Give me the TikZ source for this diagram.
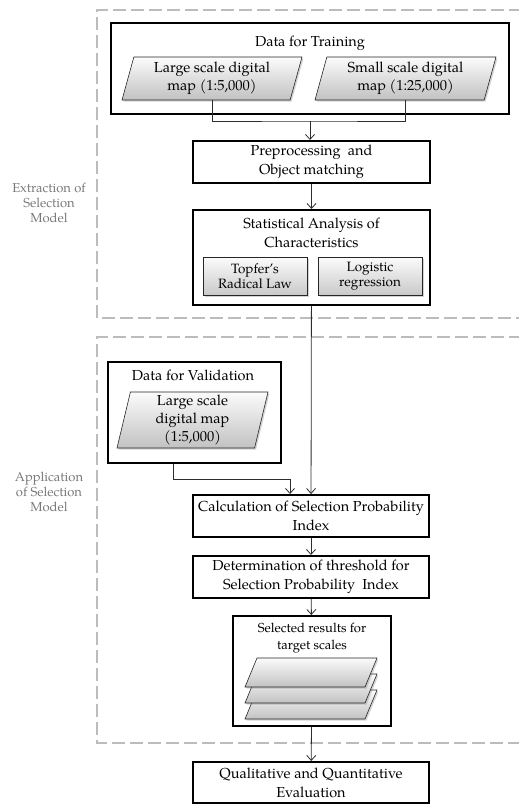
\documentclass[tikz,border=0pt]{standalone}
\usepackage{fontspec}
\setmainfont{TeX Gyre Pagella}
\usetikzlibrary{arrows.meta,positioning,shapes.geometric,shadows}
\definecolor{zoneGrey}{RGB}{188,188,188}
\definecolor{labelGrey}{RGB}{120,120,120}
\definecolor{lineGrey}{RGB}{45,45,45}

\begin{document}
\begin{tikzpicture}[x=1pt,y=-1pt,
    box/.style={draw,line width=2pt,align=center,inner sep=0pt,font=\fontsize{14.5}{19}\selectfont},
    container/.style={draw,line width=2pt,inner sep=0pt},
    heading/.style={align=center,inner sep=0pt,font=\fontsize{14.5}{19}\selectfont},
    mapsheet/.style={trapezium,trapezium stretches body,draw=black!85,line width=0.6pt,top color=gray!3,bottom color=gray!48,drop shadow={opacity=0.35,shadow xshift=1.5pt,shadow yshift=-1.5pt},align=center,inner sep=0pt,font=\fontsize{14.5}{18}\selectfont},
    sheet/.style={draw=black!85,line width=0.6pt,top color=gray!3,bottom color=gray!48,drop shadow={opacity=0.35,shadow xshift=1.5pt,shadow yshift=-1.5pt}},
    method/.style={draw=black!85,line width=0.6pt,top color=gray!3,bottom color=gray!42,drop shadow={opacity=0.35,shadow xshift=1.5pt,shadow yshift=-1.5pt},align=center,inner sep=0pt,font=\fontsize{13.5}{15}\selectfont},
    zone/.style={draw=zoneGrey,line width=2pt,dash pattern=on 13pt off 5pt},
    zonelabel/.style={text=labelGrey,align=center,font=\fontsize{13}{15}\selectfont},
    arrow/.style={-{Straight Barb[length=5pt,width=9pt]},line width=0.8pt,draw=lineGrey},
    link/.style={line width=0.8pt,draw=lineGrey}
  ]
    \useasboundingbox (0,0) rectangle (519,804);

    % the two stages
    \draw[zone] (540,10) -- (97,10) -- (97,318) -- (540,318);
    \draw[zone] (540,337) -- (97,337) -- (97,743) -- (540,743);
    \node[zonelabel] (extract) at (49,203) {Extraction of\\Selection\\Model};
    \node[zonelabel] (apply) at (49,492) {Application\\of Selection\\Model};

    % extraction of the model
    \node[container,minimum width=398pt,minimum height=91pt] (train) at (310,68.5) {};
    \node[heading] (traintitle) at (310,43) {Data for Training};
    \node[mapsheet,trapezium left angle=70,trapezium right angle=110,minimum width=180pt,minimum height=43pt] (large) at (212,78.5) {Large scale digital\\map (1:5,000)};
    \node[mapsheet,trapezium left angle=70,trapezium right angle=110,minimum width=181pt,minimum height=43pt] (small) at (405.5,78.5) {Small scale digital\\map (1:25,000)};
    \node[box,minimum width=237pt,minimum height=42pt] (prep) at (311.5,162) {Preprocessing\ \ and\\Object matching};
    \node[container,minimum width=237pt,minimum height=95pt] (stats) at (311.5,257.5) {};
    \node[heading] (statstitle) at (311.5,232.5) {Statistical Analysis of\\Characteristics};
    \node[method,minimum width=104pt,minimum height=38pt] (topfer) at (255,276) {Topfer's\\Radical Law};
    \node[method,minimum width=104pt,minimum height=38pt] (logit) at (370,276) {Logistic\\regression};

    % application of the model
    \node[container,minimum width=173pt,minimum height=101pt] (valid) at (194.5,412.5) {};
    \node[heading] (validtitle) at (193,375) {Data for Validation};
    \node[mapsheet,trapezium left angle=75,trapezium right angle=105,minimum width=151pt,minimum height=56pt] (valmap) at (192.5,420) {Large scale\\digital map\\(1:5,000)};
    \node[box,minimum width=236pt,minimum height=42pt] (calc) at (311,516) {Calculation of Selection Probability\\Index};
    \node[box,minimum width=236pt,minimum height=42pt] (thresh) at (311,577) {Determination of threshold for\\Selection Probability\ \ Index};
    \node[container,minimum width=158pt,minimum height=110pt] (select) at (312,671) {};
    \node[heading,font=\fontsize{13}{17}\selectfont] (selecttitle) at (312,638.5) {Selected results for\\target scales};
    \foreach \dy in {32,16,0}
      \draw[sheet] (245,687+\dy) -- (257,658+\dy) -- (377,658+\dy) -- (365,687+\dy) -- cycle;
    \node[box,minimum width=236pt,minimum height=41pt] (eval) at (311,782.5) {Qualitative and Quantitative\\Evaluation};

    \coordinate (merge) at (310,121);
    \draw[link] (large.south) |- (merge) -| (small.south);
    \draw[arrow] (merge) -- (prep.north -| merge);
    \draw[arrow] (prep) -- (stats);
    \draw[arrow] (stats) -- (calc);
    \draw[arrow] ([xshift=-21.5pt]valid.south) -- ++(0,15) -| ([xshift=-21pt]calc.north);
    \draw[arrow] (calc) -- (thresh);
    \draw[arrow] (thresh) -- (select);
    \draw[arrow] (select) -- (eval);
  \end{tikzpicture}
\end{document}
